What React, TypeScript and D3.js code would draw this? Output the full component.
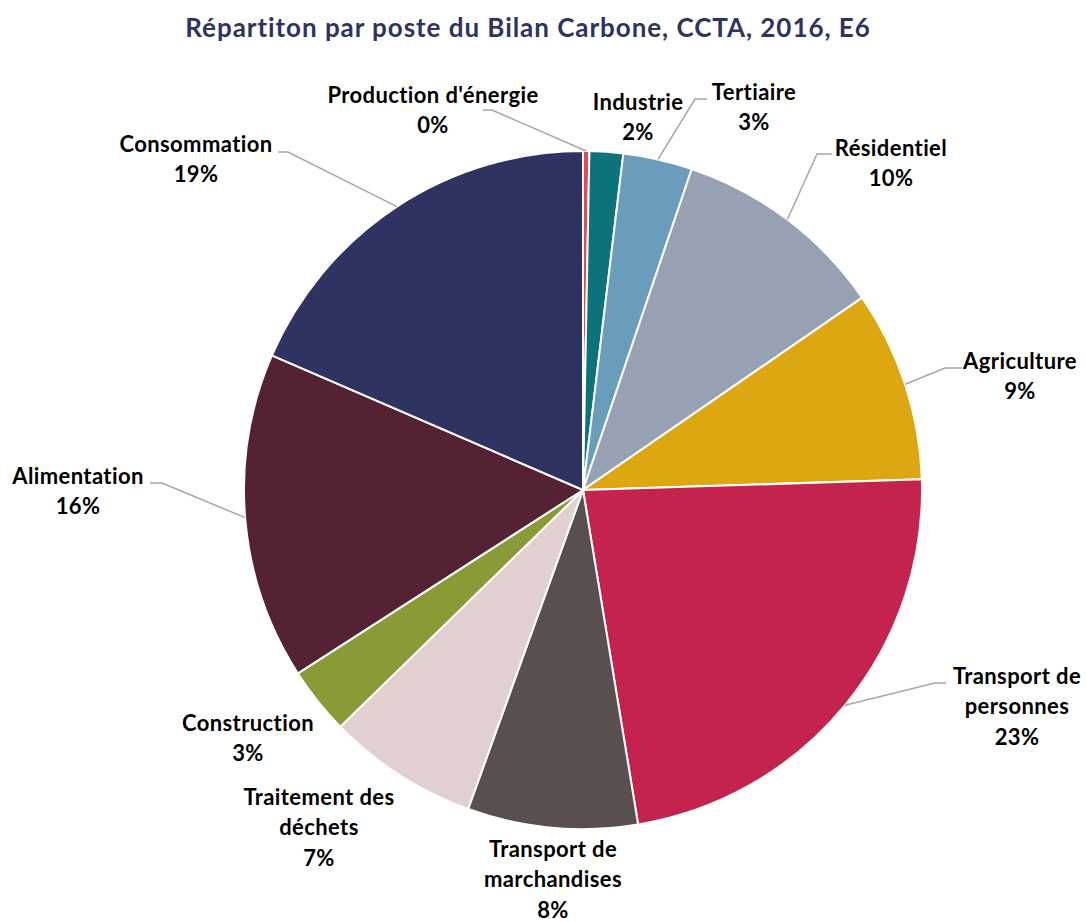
import React from "react";
import * as d3 from "d3";

const title = "Répartiton par poste du Bilan Carbone, CCTA, 2016, E6";

const categories = [
  "Production d'énergie",
  "Industrie",
  "Tertiaire",
  "Résidentiel",
  "Agriculture",
  "Transport de personnes",
  "Transport de marchandises",
  "Traitement des déchets",
  "Construction",
  "Alimentation",
  "Consommation",
];

const values = [0.3, 1.6, 3.3, 10.2, 9.1, 22.9, 8.1, 7.2, 3.2, 15.6, 18.5];

const colors = [
  "#e5485a",
  "#0d737a",
  "#6a9dbb",
  "#97a1b4",
  "#dca710",
  "#c4234d",
  "#594f4f",
  "#e2cfd0",
  "#899a36",
  "#552233",
  "#2e3361",
];

// label layout: text lines, center x, first baseline y, optional leader (horizontal from hx1 to hx2 at hy)
type Layout = { lines: string[]; x: number; y: number; leader?: [number, number, number] };
const labelLayout: Layout[] = [
  { lines: ["Production d'énergie"], x: 433, y: 103, leader: [483, 492, 110] },
  { lines: ["Industrie"], x: 638, y: 110 },
  { lines: ["Tertiaire"], x: 754, y: 100, leader: [707, 695, 99] },
  { lines: ["Résidentiel"], x: 891, y: 156, leader: [832, 817, 154] },
  { lines: ["Agriculture"], x: 1020, y: 369, leader: [962, 945, 368] },
  { lines: ["Transport de", "personnes"], x: 1017, y: 684, leader: [946, 935, 683] },
  { lines: ["Transport de", "marchandises"], x: 553, y: 857 },
  { lines: ["Traitement des", "déchets"], x: 319, y: 805 },
  { lines: ["Construction"], x: 248, y: 731 },
  { lines: ["Alimentation"], x: 78, y: 484, leader: [150, 162, 483] },
  { lines: ["Consommation"], x: 196, y: 152, leader: [278, 288, 152] },
];

const W = 1086;
const H = 922;
const cx = 583;
const cy = 490;
const R = 339;
const lineH = 30.3;
const FONT = "Lato, 'Open Sans', sans-serif";

export default function App() {
  const total = d3.sum(values);
  const data = categories.map((c, i) => ({ c, v: values[i], i }));
  const pie = d3.pie<any>().value((d) => d.v).sort(null);
  const arcs = pie(data);
  const arcGen = d3.arc<any>().innerRadius(0).outerRadius(R);

  return (
    <svg
      width={W}
      height={H}
      style={{ position: "absolute", left: 0, top: 0, background: "#fff" }}
      fontFamily={FONT}
    >
      <text
        x={528}
        y={37}
        textAnchor="middle"
        fontSize={26}
        fontWeight="bold"
        letterSpacing={0.95}
        fill="#2e3361"
      >
        {title}
      </text>
      <g transform={`translate(${cx},${cy})`}>
        {arcs.map((a, i) => (
          <path key={i} d={arcGen(a) || ""} fill={colors[i]} stroke="#fff" strokeWidth={2} />
        ))}
      </g>
      {arcs.map((a, i) => {
        const L = labelLayout[i];
        const pct = Math.round((a.data.v / total) * 100) + "%";
        const mid = (a.startAngle + a.endAngle) / 2;
        const px = cx + R * Math.sin(mid);
        const py = cy - R * Math.cos(mid);
        return (
          <g key={i}>
            {L.leader && (
              <polyline
                points={`${L.leader[0]},${L.leader[2]} ${L.leader[1]},${L.leader[2]} ${px},${py}`}
                fill="none"
                stroke="#a6a6a6"
                strokeWidth={1.5}
              />
            )}
            <text textAnchor="middle" fontSize={22} fontWeight="bold" letterSpacing={0.4} fill="#000">
              {L.lines.map((ln, k) => (
                <tspan key={k} x={L.x} y={L.y + k * lineH}>
                  {ln}
                </tspan>
              ))}
              <tspan x={L.x} y={L.y + L.lines.length * lineH}>
                {pct}
              </tspan>
            </text>
          </g>
        );
      })}
    </svg>
  );
}
